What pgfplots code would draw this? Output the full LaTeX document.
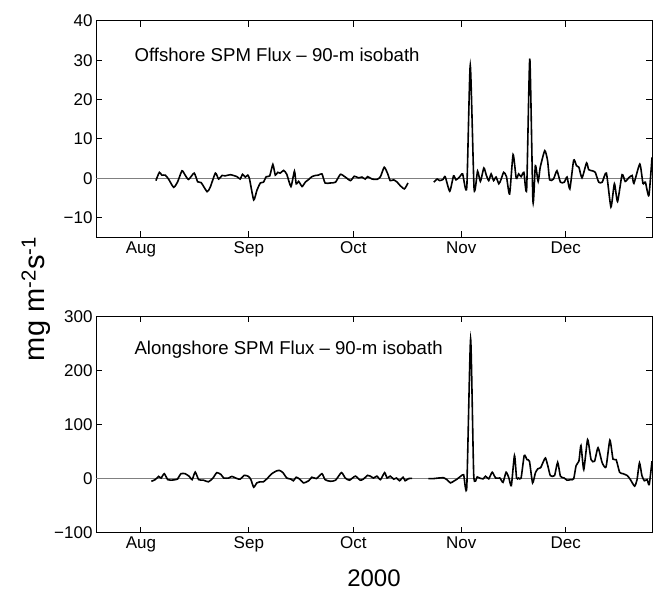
\documentclass[border=0pt]{standalone}
\usepackage{fontspec}
\setmainfont{Liberation Sans}
\usepackage{pgfplots}
\pgfplotsset{compat=1.18}

% days counted from 1 Aug 2000
\pgfplotsset{
  fluxax/.style={
    scale only axis, width=556pt, height=216.5pt,
    xmin=-12.9, xmax=146.8,
    axis line style={line width=0.9pt},
    tick style={black, line width=0.9pt},
    major tick length=6pt, tick align=inside,
    xtick={0,31,61,92,122}, xticklabels={Aug,Sep,Oct,Nov,Dec},
    ticklabel style={font=\fontsize{17}{17}\selectfont},
    xticklabel style={text height=12.5pt, text depth=3.5pt},
    /pgf/number format/assume math mode=true,
  },
  flux/.style={black, line width=1.6pt, smooth, tension=0.35, mark=none},
  zero/.style={gray, line width=0.9pt},
}

\begin{document}
\begin{tikzpicture}[x=1pt,y=1pt]
\useasboundingbox (0,0) rectangle (658,591);

\begin{axis}[fluxax, at={(96pt,353.7pt)}, anchor=south west,
  ymin=-15, ymax=40,
  ytick={-10,0,10,20,30,40}, yticklabels={−10,0,10,20,30,40}]
  \addplot[zero] coordinates {(-13,0) (147,0)};
  \addplot[flux] coordinates {
    (4.3,-0.6) (5.3,1.5) (6.0,0.8) (7.0,0.8) (8.0,-0.3) (9.4,-2.3) (10.5,-1.0)
    (11.8,1.9) (12.7,0.8) (13.7,-0.3) (15.3,1.3) (16.3,-0.9) (17.3,-1.1) (19.0,-3.4)
    (19.9,-2.3) (21.4,1.3) (22.3,-0.2) (23.3,0.7) (24.2,0.6) (25.7,0.9) (27.6,0.4)
    (28.5,-0.2) (29.2,1.0) (30.0,0.3) (30.7,0.8) (31.2,-0.2) (32.4,-5.5) (33.3,-3.1)
    (34.3,-1.2) (35.2,-1.0) (36.0,0.4) (37.0,0.6) (37.9,3.5) (38.6,0.8) (39.3,1.5)
    (40.0,1.3) (41.0,2.0) (41.9,1.0) (43.1,-2.1) (44.1,1.8) (44.6,-1.4) (45.3,-0.8)
    (46.3,-2.1) (47.2,-1.0) (48.2,-0.3) (49.1,0.4) (50.1,0.7) (51.0,0.8) (52.0,1.1)
    (52.9,-1.2) (54.4,-1.2) (55.9,-1.0) (57.3,1.0) (58.7,0.3) (60.2,-0.6) (61.3,0.5)
    (62.5,0.1) (63.5,0.3) (64.4,-0.2) (65.1,0.4) (66.4,-0.2) (67.8,-0.3) (68.8,0.4)
    (69.9,2.8) (70.9,1.1) (71.6,-0.6) (72.6,-0.4) (73.6,-1.0) (74.5,-1.9) (75.7,-2.7)
    (76.7,-1.2)};
  \addplot[flux] coordinates {
    (84.1,-1.0) (85.1,-0.2) (85.8,-0.6) (86.8,-0.3) (87.4,0.4) (88.7,-3.3) (89.8,0.6)
    (90.5,-0.4) (91.5,0.3) (92.4,1.1) (93.6,-2.3) (94.6,28.7) (95.7,-2.7) (96.7,1.8)
    (97.5,-0.8) (98.5,2.6) (99.2,0.8) (99.9,-0.6) (100.6,1.1) (101.3,-0.6) (102.0,0.3)
    (102.8,-1.4) (103.4,-0.4) (104.2,1.5) (105.0,0.4) (105.9,-4.0) (106.9,6.0)
    (107.8,0.0) (108.5,1.1) (109.2,0.4) (110.0,1.5) (110.8,-2.7) (111.7,30.4)
    (112.6,-5.9) (113.3,3.2) (114.1,-0.8) (114.7,2.8) (116.0,7.0) (116.8,4.5)
    (117.4,-0.4) (118.5,-0.2) (119.5,1.9) (120.5,-1.0) (121.6,-1.0) (122.4,0.3)
    (123.2,-2.7) (124.3,4.6) (125.1,3.2) (125.8,2.8) (126.7,0.1) (128.0,3.9)
    (128.6,2.2) (129.6,1.9) (130.5,1.5) (131.5,-1.0) (132.5,-1.0) (133.7,1.3)
    (135.0,-7.3) (136.0,-1.4) (136.9,-5.9) (138.2,0.9) (139.1,-0.8) (140.1,0.1)
    (141.1,0.7) (141.6,-1.3) (143.3,3.6) (144.2,-1.3) (144.9,-1.0) (145.9,-4.4)
    (146.8,5.3)};
  \node[anchor=west, font=\fontsize{18.6}{18.6}\selectfont] at (rel axis cs:0.063,0.844)
    {Offshore SPM Flux – 90-m isobath};
\end{axis}

\begin{axis}[fluxax, at={(96pt,58.3pt)}, anchor=south west,
  ymin=-100, ymax=300,
  ytick={-100,0,100,200,300}, yticklabels={−100,0,100,200,300}]
  \addplot[zero] coordinates {(-13,0) (147,0)};
  \addplot[flux] coordinates {
    (3.0,-5) (4.1,-2) (5.1,4) (5.8,1) (6.7,9) (7.7,-2) (8.6,-3) (9.9,-2) (10.5,-1)
    (11.5,9) (12.7,9) (13.9,4) (14.7,-2) (15.6,12) (16.6,-2) (18.0,-3) (19.4,-6)
    (20.7,1) (21.8,11) (23.0,7.5) (23.8,1) (25.2,1) (26.1,4) (27.6,0) (28.5,-1)
    (29.7,6) (30.9,4) (31.6,-2) (32.4,-16) (33.3,-8) (34.3,-6) (35.2,-6) (36.4,1)
    (37.6,9) (38.9,14) (39.8,15) (40.8,11) (41.9,1) (43.1,-1) (43.8,-4) (44.6,2.5)
    (45.6,-1) (46.7,-8) (48.2,-4) (49.1,2.5) (50.4,0) (52.0,9) (52.9,-2) (54.4,-5)
    (55.9,-3) (57.6,11) (58.7,1) (59.9,-3) (61.6,4.5) (63.0,-3) (63.9,-1) (65.1,6)
    (65.9,4.5) (66.8,1) (67.8,4.5) (68.8,-2) (70.0,11) (70.7,1) (71.6,4.5) (72.6,-1)
    (73.4,1) (74.3,-4) (75.3,2.5) (75.9,-4) (76.9,0) (77.9,0.5)};
  \addplot[flux] coordinates {
    (82.6,0) (84.1,0) (85.5,1) (86.9,1.5) (87.9,-2) (88.9,-8) (89.8,-5) (90.8,-1)
    (91.9,4.5) (92.7,7) (93.6,-15) (94.7,258) (95.6,6) (96.6,3) (97.3,1) (98.3,-0.5)
    (99.0,4.3) (99.9,-0.5) (100.9,11.7) (101.9,1) (103.1,1) (104.0,-7) (104.9,11.7)
    (105.7,1) (106.4,-13) (107.3,42.6) (107.9,1) (108.5,1) (109.2,1) (110.1,42.6)
    (110.9,35) (111.6,32) (112.5,-8) (113.3,10.5) (114.0,18) (114.8,20) (115.5,30)
    (116.2,38) (116.9,23) (117.6,5.5) (118.8,5.5) (119.7,30) (120.5,4.3) (121.6,1)
    (122.4,-3) (123.4,-2) (124.3,-0.5) (125.0,24) (125.8,32) (126.4,61) (127.2,16.7)
    (128.3,72) (129.3,35) (130.3,32) (131.3,57) (132.5,29) (133.6,21.6) (134.7,71)
    (135.6,36) (136.5,35) (137.5,11.7) (138.5,9) (139.7,5.5) (140.6,-2) (141.8,-14)
    (142.5,-2) (143.2,29) (143.9,5.5) (144.6,-4) (145.4,-2) (146.0,-11) (146.8,32)};
  \node[anchor=west, font=\fontsize{18.6}{18.6}\selectfont] at (rel axis cs:0.063,0.844)
    {Alongshore SPM Flux – 90-m isobath};
\end{axis}

\node[rotate=90, font=\fontsize{29}{29}\selectfont] at (36,292)
  {mg m\textsuperscript{-2}s\textsuperscript{-1}};
\node[font=\fontsize{24}{24}\selectfont] at (374,13) {2000};
\end{tikzpicture}
\end{document}
